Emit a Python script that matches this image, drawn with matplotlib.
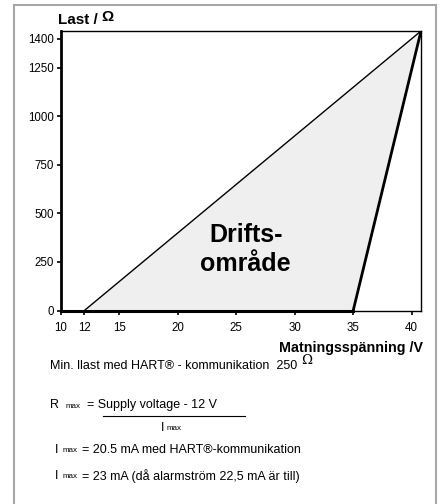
import matplotlib
matplotlib.use("Agg")
import matplotlib.pyplot as plt
from matplotlib.patches import Polygon, Rectangle
from matplotlib.lines import Line2D

# Arbetsområde (Matningsspänning / V, Last / Ohm)
region_u = [12, 40.8, 35]
region_r = [0, 1440, 0]
x_ticks = [10, 12, 15, 20, 25, 30, 35, 40]
y_ticks = [0, 250, 500, 750, 1000, 1250, 1400]
x_lim = (10, 40.8)
y_lim = (0, 1440)

W, H = 444, 504
plt.rcParams['font.family'] = ['Liberation Sans', 'DejaVu Sans']


def px(x, y):
    # pixel -> figurkoordinat
    return x / W, 1 - y / H


fig = plt.figure(figsize=(W / 100, H / 100), dpi=100)
fig.patches.append(Rectangle(px(14, 560), 422 / W, 555 / H, transform=fig.transFigure,
                             fill=False, ec='#a6a6a6', lw=1.5))

l, b = px(61, 310.5)
r, t = px(421, 31)
ax = fig.add_axes([l, b, r - l, t - b])
ax.set_xlim(*x_lim)
ax.set_ylim(*y_lim)

ax.add_patch(Polygon(list(zip(region_u, region_r)), closed=True, fc='#efefef', ec='none'))
ax.plot(region_u[:2], region_r[:2], color='k', lw=1.0, solid_capstyle='round')
ax.plot(region_u[1:], region_r[1:], color='k', lw=2.0, solid_capstyle='round')
ax.plot([x_lim[0], region_u[2]], [0, 0], color='k', lw=2.2, clip_on=False)

for s in ['top', 'right', 'bottom']:
    ax.spines[s].set_linewidth(1.0)
ax.spines['left'].set_linewidth(2.0)

ax.set_xticks(x_ticks)
ax.set_yticks(y_ticks)
ax.tick_params(direction='out', length=3, width=1.2, labelsize=8.3, pad=2)
ax.tick_params(axis='x', pad=5)

ax.text(25.8, 315, 'Drifts-\nområde', fontsize=18, fontweight='bold', ha='center', va='center',
        linespacing=1.3)

fig.text(*px(58, 20), 'Last / ', fontsize=11, fontweight='bold', va='center', ha='left')
fig.text(*px(101, 17), 'Ω', fontsize=11, fontweight='bold', va='center', ha='left')
fig.text(*px(423, 348), 'Matningsspänning /V', fontsize=10.3, fontweight='bold', va='center', ha='right')

fs = 9.0
fs_sub = 5.8
fig.text(*px(50, 366), 'Min. llast med HART® - kommunikation  250', fontsize=fs, va='center')
fig.text(*px(301, 361), 'Ω', fontsize=9.5, va='center', family='DejaVu Serif')

fig.text(*px(50, 405), 'R', fontsize=fs, va='center')
fig.text(*px(66, 406), 'max', fontsize=fs_sub, va='center')
fig.text(*px(87, 405), '= Supply voltage - 12 V', fontsize=fs, va='center')
fig.add_artist(Line2D([103 / W, 245 / W], [1 - 416 / H, 1 - 416 / H], color='k', lw=0.8))
fig.text(*px(161, 428), 'I', fontsize=fs, va='center')
fig.text(*px(167, 429), 'max', fontsize=fs_sub, va='center')

fig.text(*px(55, 450), 'I', fontsize=fs, va='center')
fig.text(*px(63, 451), 'max', fontsize=fs_sub, va='center')
fig.text(*px(82, 450), '= 20.5 mA med HART®-kommunikation', fontsize=fs, va='center')

fig.text(*px(55, 476), 'I', fontsize=fs, va='center')
fig.text(*px(63, 477), 'max', fontsize=fs_sub, va='center')
fig.text(*px(82, 476), '= 23 mA (då alarmström 22,5 mA är till)', fontsize=fs, va='center')

fig.savefig('out.png', dpi=100)
